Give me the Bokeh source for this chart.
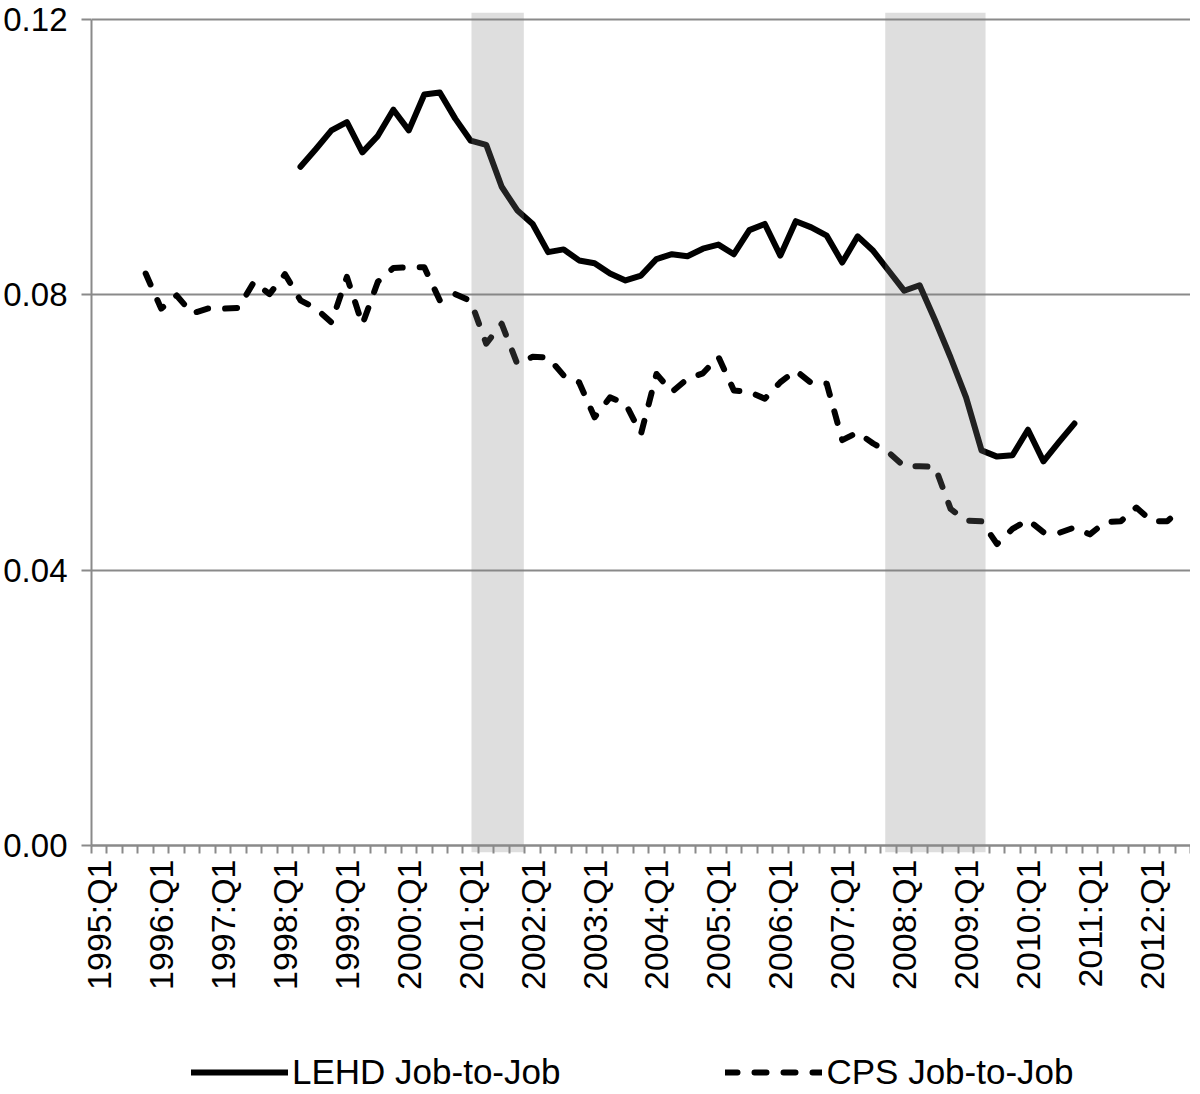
from bokeh.plotting import figure
from bokeh.models import Range1d, FixedTicker, Span, Legend, LegendItem
from bokeh.layouts import column
from bokeh.embed import file_html
from bokeh.resources import INLINE

# ---------------- data ----------------
quarters = [f"{y}:Q{q}" for y in range(1995, 2013) for q in (1, 2, 3, 4)][:71]  # 1995:Q1 .. 2012:Q3
tick_labels = ["1995:Q1", "1996:Q1", "1997:Q1", "1998:Q1", "1999:Q1", "2000:Q1",
               "2001:Q1", "2002:Q1", "2003:Q1", "2004:Q1", "2005:Q1", "2006:Q1",
               "2007:Q1", "2008:Q1", "2009:Q1", "2010:Q1", "2011:Q1", "2012:Q1"]

lehd_start = "1998:Q2"
lehd = [0.0986, 0.1012, 0.1039, 0.1051, 0.1007, 0.1031, 0.1069, 0.1039, 0.1091, 0.1094,
        0.1056, 0.1024, 0.1018, 0.0957, 0.0923, 0.0903, 0.0862, 0.0866, 0.0850, 0.0846,
        0.0831, 0.0821, 0.0828, 0.0852, 0.0859, 0.0856, 0.0867, 0.0873, 0.0859, 0.0894,
        0.0903, 0.0857, 0.0907, 0.0898, 0.0886, 0.0847, 0.0885, 0.0864, 0.0835, 0.0806,
        0.0814, 0.0763, 0.0709, 0.0651, 0.0574, 0.0565, 0.0567, 0.0604, 0.0558, 0.0586,
        0.0613]

cps_start = "1995:Q4"
cps = [0.0831, 0.0780, 0.0799, 0.0773, 0.0780, 0.0780, 0.0781, 0.0819, 0.0801, 0.0830,
       0.0792, 0.0780, 0.0760, 0.0826, 0.0757, 0.0819, 0.0839, 0.0840, 0.0840, 0.0792,
       0.0801, 0.0791, 0.0729, 0.0758, 0.0700, 0.0710, 0.0709, 0.0683, 0.0673, 0.0622,
       0.0651, 0.0642, 0.0598, 0.0685, 0.0659, 0.0678, 0.0686, 0.0710, 0.0661, 0.0659,
       0.0649, 0.0673, 0.0690, 0.0672, 0.0671, 0.0589, 0.0600, 0.0584, 0.0571, 0.0551,
       0.0551, 0.0550, 0.0489, 0.0472, 0.0471, 0.0438, 0.0460, 0.0473, 0.0455, 0.0454,
       0.0462, 0.0452, 0.0470, 0.0471, 0.0491, 0.0471, 0.0471, 0.0491]

series_names = ["LEHD Job-to-Job", "CPS Job-to-Job"]

# recession shading, in quarters elapsed since start of 1995:Q1
recession_start = [24.55, 51.28]
recession_end = [27.93, 57.76]

y_ticks = [0.0, 0.04, 0.08, 0.12]
y_tick_labels = ["0.00", "0.04", "0.08", "0.12"]

# ---------------- styles ----------------
FONT = "Liberation Sans"
GRAY = "#8a8a8a"
LINE_W = 6
DASH = "12 17"

# ---------------- main figure ----------------
n = len(quarters)
pad = 0.00102
p = figure(frame_width=1099, frame_height=840, output_backend="svg", toolbar_location=None,
           x_range=Range1d(0, n), y_range=Range1d(-pad, y_ticks[-1] + pad),
           min_border_left=85, min_border_right=0, min_border_top=12, min_border_bottom=0)
p.outline_line_color = None
p.background_fill_color = "white"
p.border_fill_color = "white"

x_lehd = [quarters.index(lehd_start) + k + 0.5 for k in range(len(lehd))]
x_cps = [quarters.index(cps_start) + k + 0.5 for k in range(len(cps))]

p.line(x_lehd, lehd, line_color="black", line_width=LINE_W, line_join="round", line_cap="round")
p.line(x_cps, cps, line_color="black", line_width=LINE_W, line_dash=DASH,
       line_join="round", line_cap="round")

p.quad(left=recession_start, right=recession_end,
       bottom=[-pad] * len(recession_start), top=[y_ticks[-1] + pad] * len(recession_start),
       fill_color="#818181", fill_alpha=0.26, line_color=None)

# x axis line at zero
p.add_layout(Span(location=0, dimension="width", line_color=GRAY, line_width=2))

# ---- x axis ----
xa = p.xaxis[0]
major = [quarters.index(t) + 0.5 for t in tick_labels]
xa.ticker = FixedTicker(ticks=major, minor_ticks=list(range(0, n + 1)))
xa.major_label_overrides = {m: t for m, t in zip(major, tick_labels)}
xa.axis_line_color = None
xa.major_tick_in = 0
xa.major_tick_out = 0
xa.minor_tick_in = 7
xa.minor_tick_out = 1
xa.minor_tick_line_color = GRAY
xa.minor_tick_line_width = 2
xa.major_label_orientation = 1.5707963
xa.major_label_standoff = 6
xa.major_label_text_font = FONT
xa.major_label_text_font_size = "34px"
xa.major_label_text_color = "black"

# ---- y axis ----
ya = p.yaxis[0]
ya.ticker = FixedTicker(ticks=y_ticks, minor_ticks=[])
ya.major_label_overrides = {v: t for v, t in zip(y_ticks, y_tick_labels)}
ya.bounds = (y_ticks[0], y_ticks[-1])
ya.axis_line_color = GRAY
ya.axis_line_width = 2
ya.major_tick_line_color = GRAY
ya.major_tick_line_width = 2
ya.major_tick_in = 0
ya.major_tick_out = 10
ya.minor_tick_line_color = None
ya.major_label_standoff = 14
ya.major_label_text_font = FONT
ya.major_label_text_font_size = "33px"
ya.major_label_text_color = "black"

p.xgrid.visible = False
p.ygrid.grid_line_color = GRAY
p.ygrid.grid_line_width = 2

# ---------------- legend strip below (frame aligned with the main frame) ----------------
p2 = figure(width=1184, height=100, output_backend="svg", toolbar_location=None,
            x_range=Range1d(-2, -1), y_range=Range1d(-2, -1),
            x_axis_location=None, y_axis_location=None,
            min_border_left=85, min_border_right=0, min_border_top=0, min_border_bottom=0)
p2.outline_line_color = None
p2.grid.visible = False
p2.background_fill_color = "white"
p2.border_fill_color = "white"
# same series drawn outside this strip's visible range: they only supply the legend keys
k1 = p2.line(x_lehd, lehd, line_color="black", line_width=LINE_W, line_cap="round")
k2 = p2.line(x_cps, cps, line_color="black", line_width=LINE_W, line_dash=DASH, line_cap="round")

legend = Legend(items=[LegendItem(label=series_names[0], renderers=[k1]),
                       LegendItem(label=series_names[1], renderers=[k2])],
                orientation="horizontal", location=(100, 0),
                glyph_width=97, glyph_height=20, label_standoff=4, spacing=165,
                padding=0, margin=0,
                border_line_color=None, background_fill_alpha=0,
                label_text_font=FONT, label_text_font_size="35px", label_text_color="black")
p2.add_layout(legend, "center")

layout = column(p, p2, spacing=0)
open("out.html", "w").write(file_html(layout, INLINE))
